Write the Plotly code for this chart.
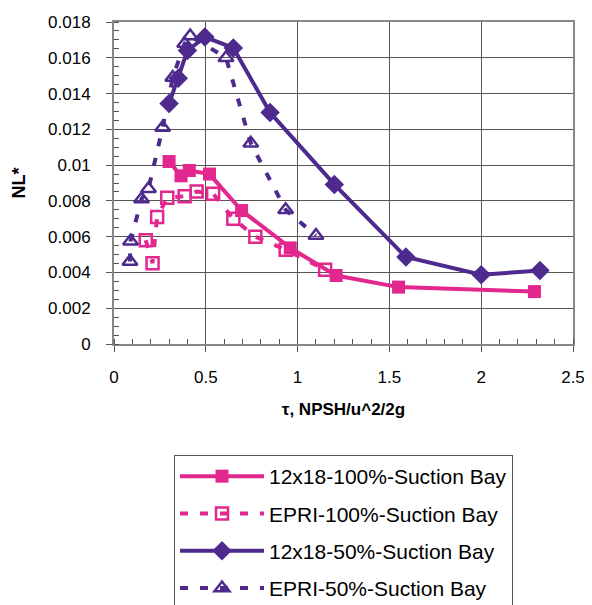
import plotly.graph_objects as go

# 12x18-100%-Suction Bay
x_1218_100 = [0.30, 0.365, 0.41, 0.52, 0.695, 0.96, 1.21, 1.55, 2.29]
y_1218_100 = [0.0102, 0.0094, 0.0097, 0.0095, 0.00746, 0.00537, 0.00383, 0.00318, 0.00293]

# EPRI-100%-Suction Bay
x_epri_100 = [0.173, 0.21, 0.235, 0.29, 0.385, 0.45, 0.54, 0.65, 0.77, 0.935, 1.15]
y_epri_100 = [0.0058, 0.00452, 0.0071, 0.00817, 0.00826, 0.00852, 0.0084, 0.0070, 0.0060, 0.00527, 0.00415]

# 12x18-50%-Suction Bay
x_1218_50 = [0.30, 0.35, 0.40, 0.495, 0.65, 0.85, 1.20, 1.59, 2.0, 2.32]
y_1218_50 = [0.01344, 0.01486, 0.0164, 0.01716, 0.01655, 0.01294, 0.00892, 0.00486, 0.00387, 0.00411]

# EPRI-50%-Suction Bay
x_epri_50 = [0.087, 0.09, 0.15, 0.188, 0.265, 0.32, 0.385, 0.415, 0.61, 0.745, 0.935, 1.10]
y_epri_50 = [0.00461, 0.00574, 0.0081, 0.00868, 0.0121, 0.0149, 0.0168, 0.01722, 0.0160, 0.01122, 0.0075, 0.00606]

x_ticks = [0, 0.5, 1, 1.5, 2, 2.5]
y_ticks = [0, 0.002, 0.004, 0.006, 0.008, 0.01, 0.012, 0.014, 0.016, 0.018]
y_tick_labels = ["0", "0.002", "0.004", "0.006", "0.008", "0.01", "0.012", "0.014", "0.016", "0.018"]

PINK = "#E2278E"
PURPLE = "#4E2A8E"
FONT = "Arial, Liberation Sans, sans-serif"

fig = go.Figure()
fig.add_trace(go.Scatter(
    x=x_1218_100, y=y_1218_100, name="12x18-100%-Suction Bay", mode="lines+markers",
    line=dict(color=PINK, width=4), legendgroup="a",
    marker=dict(symbol="square", size=13, color=PINK)))
fig.add_trace(go.Scatter(
    x=x_epri_100, y=y_epri_100, name="EPRI-100%-Suction Bay", mode="lines+markers",
    line=dict(color=PINK, width=4, dash="8px,12px"), legendgroup="b",
    marker=dict(symbol="square-open", size=12, color=PINK, line=dict(width=2.5))))
fig.add_trace(go.Scatter(
    x=x_1218_50, y=y_1218_50, name="12x18-50%-Suction Bay", mode="lines+markers",
    line=dict(color=PURPLE, width=4), legendgroup="c",
    marker=dict(symbol="diamond", size=15, color=PURPLE)))
fig.add_trace(go.Scatter(
    x=x_epri_50, y=y_epri_50, name="EPRI-50%-Suction Bay", mode="lines+markers",
    line=dict(color=PURPLE, width=4, dash="8px,12px"), legendgroup="d",
    marker=dict(symbol="triangle-up-open", size=13, color=PURPLE, line=dict(width=2.5))))

# page body has an 8px margin, so the figure is 8px smaller and shifted accordingly
fig.update_layout(
    width=584, height=597,
    margin=dict(l=106, r=19, t=14, b=261, autoexpand=False),
    paper_bgcolor="white", plot_bgcolor="white",
    font=dict(family=FONT, size=17, color="black"),
    showlegend=True,
    legend=dict(
        x=(174 - 114) / 459, y=-(455 - 344) / 322, xanchor="left", yanchor="top",
        bordercolor="#555555", borderwidth=1,
        font=dict(family=FONT, size=21, color="black"),
        traceorder="grouped", tracegroupgap=7,
        itemwidth=84,
    ),
)
fig.update_xaxes(
    range=[0, 2.5], tickvals=x_ticks, ticktext=[str(v) for v in x_ticks],
    showgrid=True, gridcolor="#555555", gridwidth=1,
    showline=True, linecolor="#888888", linewidth=2, mirror=True,
    ticks="outside", ticklen=6, tickcolor="#555555", ticklabelstandoff=11,
    minor=dict(dtick=0.1, ticks="inside", ticklen=5, tickcolor="#555555", showgrid=False),
    zeroline=False, automargin=False,
    title=dict(text="<b>τ, NPSH/u^2/2g</b>", font=dict(family=FONT, size=17), standoff=17),
)
fig.update_yaxes(
    range=[0, 0.018], tickvals=y_ticks, ticktext=y_tick_labels,
    showgrid=True, gridcolor="#555555", gridwidth=1,
    showline=True, linecolor="#888888", linewidth=2, mirror=True,
    ticks="outside", ticklen=6, tickcolor="#555555", ticklabelstandoff=12,
    minor=dict(dtick=0.0005, ticks="inside", ticklen=5, tickcolor="#555555", showgrid=False),
    zeroline=False, automargin=False,
    title=dict(text="<b>NL*</b>", font=dict(family=FONT, size=18), standoff=18),
)

fig.write_html("out.html")
